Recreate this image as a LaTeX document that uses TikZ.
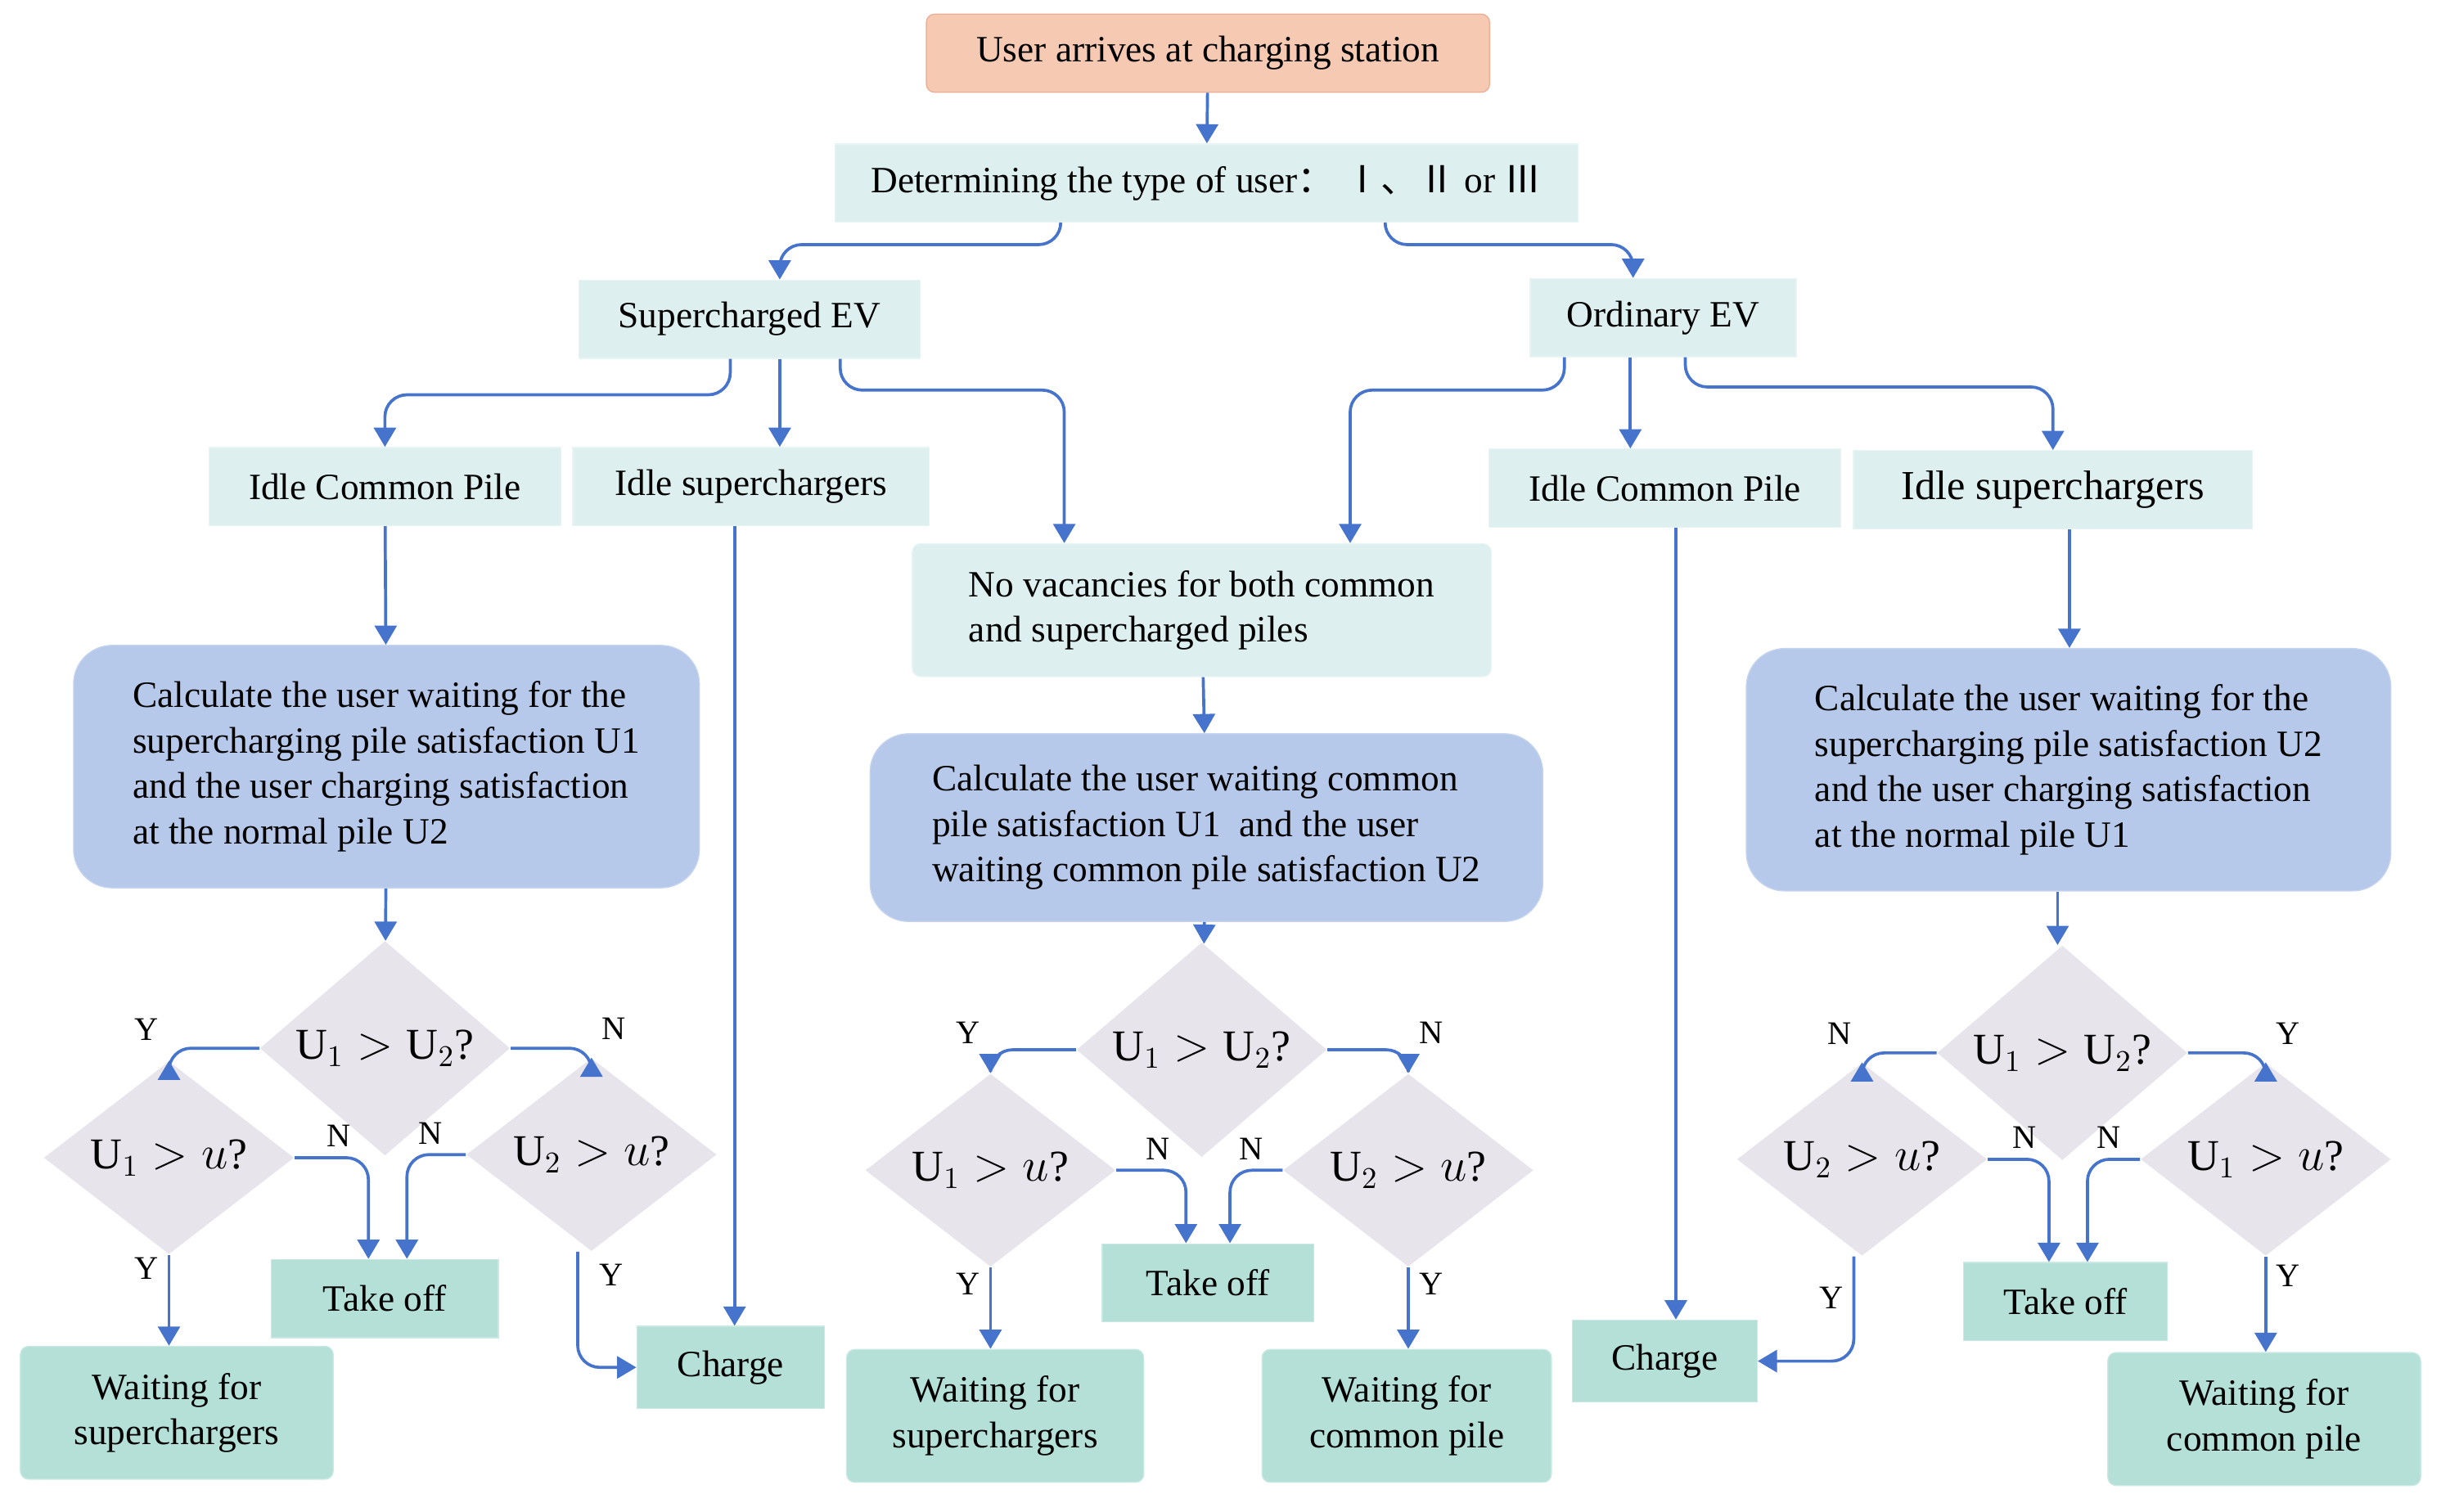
\documentclass[tikz,border=0pt]{standalone}
\usepackage{fontspec}
\setmainfont{Liberation Serif}
\newfontfamily\cjk{Noto Sans CJK SC}
\usetikzlibrary{positioning,shapes.geometric,arrows.meta}
\definecolor{startc}{HTML}{F6C9B3}
\definecolor{startb}{HTML}{EBAF95}
\definecolor{boxc}{HTML}{DDF0EF}
\definecolor{calcc}{HTML}{B7C9EA}
\definecolor{diac}{HTML}{E7E4EC}
\definecolor{resc}{HTML}{B4E0D8}
\definecolor{arrc}{HTML}{4673CC}

\begin{document}
\begin{tikzpicture}[
			x=0.02cm, y=-0.02cm,
			font=\fontsize{13.5}{16.5}\selectfont,
			arr/.style = {draw=arrc, line width=1.1pt, rounded corners=8pt, -{Triangle[width=8pt,length=7pt]}},
			box/.style = {fill=boxc, draw=boxc!70!white, minimum height=1cm, inner sep=2pt},
			start/.style = {box, fill=startc, draw=startb, rounded corners=3pt},
			calc/.style = {fill=calcc, draw=calcc!80!white, rounded corners=14pt, align=left, inner sep=6pt},
			dia/.style = {diamond, fill=diac, minimum width=3.2cm, minimum height=1.65cm, inner sep=0pt, font=\fontsize{16}{18}\selectfont},
			res/.style = {fill=resc, draw=resc!70!white, align=center, inner sep=2pt},
			lab/.style = {font=\fontsize{12}{14}\selectfont}
		]
		\useasboundingbox (0,0) rectangle (1560,966);
		% Top levels
		\node[start, minimum width=7.2cm] (arrive) at (772,34) {User arrives at charging station};
		\node[box, minimum width=9.5cm] (type) at (771,117) {Determining the type of user{\cjk ：} {\cjk Ⅰ、Ⅱ} or {\cjk Ⅲ}};
		\node[box, minimum width=4.36cm] (sev) at (479,204) {Supercharged EV};
		\node[box, minimum width=3.4cm] (oev) at (1063,203) {Ordinary EV};
		\node[box, minimum width=4.5cm] (icpa) at (246,311) {Idle Common Pile};
		\node[box, minimum width=4.56cm] (isa) at (480,311) {Idle superchargers};
		\node[box, minimum width=4.5cm] (icpb) at (1064,312) {Idle Common Pile};
		\node[box, minimum width=5.1cm, font=\fontsize{15}{17}\selectfont] (isb) at (1312,313) {Idle superchargers};
		\node[box, minimum width=7.4cm, minimum height=1.7cm, align=left, rounded corners=3pt] (novac) at (768,390) {No vacancies for both common\\and supercharged piles};
		% Calculation boxes
		\node[calc, minimum width=8cm, minimum height=3.1cm] (calca) at (247,490) {Calculate the user waiting for the\\supercharging pile satisfaction U1\\and the user charging satisfaction\\at the normal pile U2};
		\node[calc, minimum width=8.6cm, minimum height=2.4cm] (calcb) at (771,529) {Calculate the user waiting common\\pile satisfaction U1\ \ and the user\\waiting common pile satisfaction U2};
		\node[calc, minimum width=8.24cm, minimum height=3.1cm] (calcc) at (1322,492) {Calculate the user waiting for the\\supercharging pile satisfaction U2\\and the user charging satisfaction\\at the normal pile U1};
		% Decisions
		\node[dia] (da) at (246,670) {$\mathrm{U}_1>\mathrm{U}_2$?};
		\node[dia] (dal) at (108,740) {$\mathrm{U}_1>u$?};
		\node[dia] (dar) at (378,738) {$\mathrm{U}_2>u$?};
		\node[dia] (db) at (768,671) {$\mathrm{U}_1>\mathrm{U}_2$?};
		\node[dia] (dbl) at (633,748) {$\mathrm{U}_1>u$?};
		\node[dia] (dbr) at (900,748) {$\mathrm{U}_2>u$?};
		\node[dia] (dc) at (1318,673) {$\mathrm{U}_1>\mathrm{U}_2$?};
		\node[dia] (dcl) at (1190,741) {$\mathrm{U}_2>u$?};
		\node[dia] (dcr) at (1448,741) {$\mathrm{U}_1>u$?};
		% Results
		\node[res, minimum width=2.9cm, minimum height=1cm] (offa) at (246,830) {Take off};
		\node[res, minimum width=4cm, minimum height=1.7cm, rounded corners=3pt] (waita) at (113,903) {Waiting for\\superchargers};
		\node[res, minimum width=2.4cm, minimum height=1.05cm] (chga) at (467,874) {Charge};
		\node[res, minimum width=2.7cm, minimum height=1cm] (offb) at (772,820) {Take off};
		\node[res, minimum width=3.8cm, minimum height=1.7cm, rounded corners=3pt] (waitb) at (636,905) {Waiting for\\superchargers};
		\node[res, minimum width=3.7cm, minimum height=1.7cm, rounded corners=3pt] (waitc) at (899,905) {Waiting for\\common pile};
		\node[res, minimum width=2.36cm, minimum height=1.05cm] (chgb) at (1064,870) {Charge};
		\node[res, minimum width=2.6cm, minimum height=1cm] (offc) at (1320,832) {Take off};
		\node[res, minimum width=4cm, minimum height=1.7cm, rounded corners=3pt] (waitd) at (1447,907) {Waiting for\\common pile};
		% Upper connectors
		\draw[arr] (arrive) -- (type);
		\draw[arr] ([xshift=-53]type.south) -- ++(0,14) -| ([xshift=11]sev.north);
		\draw[arr] ([xshift=65]type.south) -- ++(0,14) -| ([xshift=-11]oev.north);
		\draw[arr] ([xshift=-7]sev.south) -- ++(0,23) -| (icpa.north);
		\draw[arr] ([xshift=11]sev.south) -- ([xshift=11]sev.south |- isa.north);
		\draw[arr] ([xshift=33]sev.south) -- ++(0,20) -| ([xshift=-50]novac.north);
		\draw[arr] ([xshift=-36]oev.south) -- ++(0,21) -| ([xshift=54]novac.north);
		\draw[arr] ([xshift=-12]oev.south) -- ([xshift=-12]oev.south |- icpb.north);
		\draw[arr] ([xshift=8]oev.south) -- ++(0,19) -| (isb.north);
		\draw[arr] (icpa) -- (calca);
		\draw[arr] ([xshift=-6]isa.south) -- ([xshift=-6]isa.south |- chga.north);
		\draw[arr] (novac) -- (calcb);
		\draw[arr] ([xshift=4]icpb.south) -- ([xshift=4]icpb.south |- chgb.north);
		\draw[arr] ([xshift=6]isb.south) -- ([xshift=6]isb.south |- calcc.north);
		\draw[arr] (calca) -- (da);
		\draw[arr] (calcb) -- (db);
		\draw[arr] ([xshift=-4]calcc.south) -- ([xshift=-4]calcc.south |- dc.north);
		% Left branch
		\draw[arr] (da.west) -| node[lab, pos=0.6, above left] {Y} (dal.north);
		\draw[arr] (da.east) -| node[lab, pos=0.6, above right] {N} (dar.north);
		\draw[arr] (dal.east) -| node[lab, pos=0.3, above] {N} ([xshift=-6]offa.north);
		\draw[arr] (dar.west) -| node[lab, pos=0.3, above] {N} ([xshift=8]offa.north);
		\draw[arr] (dal.south) -- node[lab, pos=0.15, left] {Y} (dal.south |- waita.north);
		\draw[arr] ([xshift=-5]dar.south) |- node[lab, pos=0.1, right=4pt] {Y} (chga.west);
		% Middle branch
		\draw[arr] (db.west) -| node[lab, pos=0.6, above left] {Y} (dbl.north);
		\draw[arr] (db.east) -| node[lab, pos=0.6, above right] {N} (dbr.north);
		\draw[arr] (dbl.east) -| node[lab, pos=0.3, above] {N} ([xshift=-8]offb.north);
		\draw[arr] (dbr.west) -| node[lab, pos=0.3, above] {N} ([xshift=8]offb.north);
		\draw[arr] (dbl.south) -- node[lab, pos=0.2, left] {Y} (dbl.south |- waitb.north);
		\draw[arr] (dbr.south) -- node[lab, pos=0.2, right] {Y} (dbr.south |- waitc.north);
		% Right branch
		\draw[arr] (dc.west) -| node[lab, pos=0.6, above left] {N} (dcl.north);
		\draw[arr] (dc.east) -| node[lab, pos=0.6, above right] {Y} (dcr.north);
		\draw[arr] (dcl.east) -| node[lab, pos=0.3, above] {N} ([xshift=-6]offc.north);
		\draw[arr] (dcr.west) -| node[lab, pos=0.3, above] {N} ([xshift=8]offc.north);
		\draw[arr] ([xshift=-3]dcl.south) |- node[lab, pos=0.2, left] {Y} (chgb.east);
		\draw[arr] (dcr.south) -- node[lab, pos=0.2, right] {Y} (dcr.south |- waitd.north);
	\end{tikzpicture}
\end{document}
